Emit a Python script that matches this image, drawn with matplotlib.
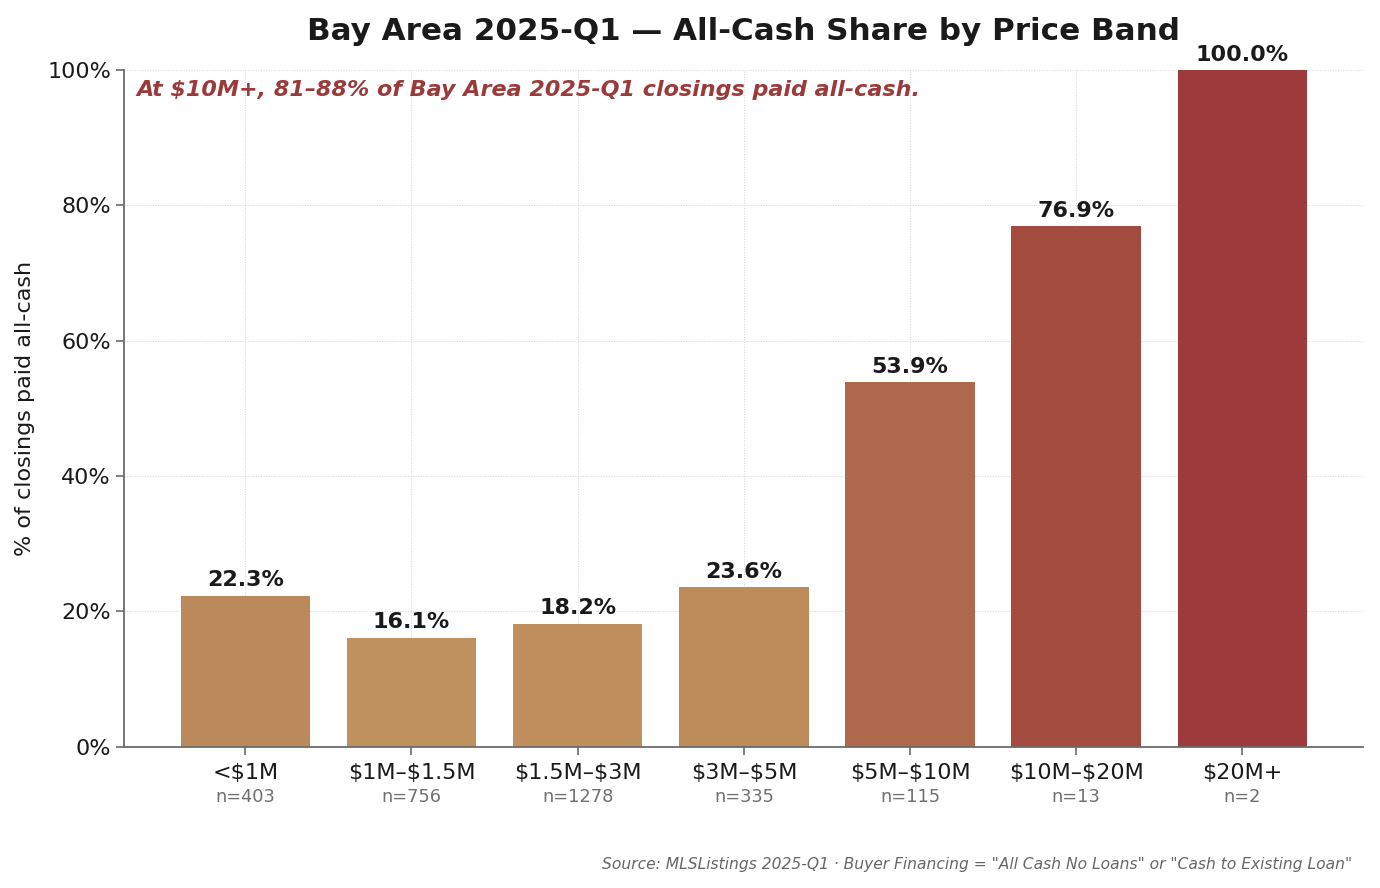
#!/usr/bin/env python3
"""Bay Area 2025-Q1 all-cash share by price band."""
import matplotlib
matplotlib.use("Agg")
import matplotlib.pyplot as plt
import matplotlib.transforms as mtransforms
from matplotlib.ticker import FuncFormatter

plt.rcParams["font.family"] = ["DejaVu Sans"]

bands = ["<$1M", "$1M–$1.5M", "$1.5M–$3M", "$3M–$5M", "$5M–$10M", "$10M–$20M", "$20M+"]
cash_pct = [22.3, 16.1, 18.2, 23.6, 53.9, 76.9, 100.0]
n_sales = [403, 756, 1278, 335, 115, 13, 2]
bar_colors = ["#BC8A5A", "#BF915E", "#BF905D", "#BD8B5A", "#AE694D", "#A44B40", "#9F3A3C"]

TXT = "#1a1a1a"
ACCENT = "#9B3A3A"
SPINE = "#6b6b6b"

fig, ax = plt.subplots(figsize=(13.8, 8.88), dpi=100)
fig.subplots_adjust(left=0.09, right=0.988, top=0.921, bottom=0.159)

x = list(range(len(bands)))
ax.bar(x, cash_pct, width=0.78, color=bar_colors, zorder=2)

for xi, v in zip(x, cash_pct):
    ax.annotate(f"{v:.1f}%", (xi, v), xytext=(0, 4), textcoords="offset points",
                ha="center", va="bottom", fontsize=16, fontweight="bold", color=TXT,
                annotation_clip=False)

ax.set_ylim(0, 100)
ax.yaxis.set_major_formatter(FuncFormatter(lambda v, _: f"{v:.0f}%"))
ax.set_xticks(x)
ax.set_xticklabels([b.replace("$", r"\$") for b in bands], fontsize=16, color=TXT)
ax.tick_params(axis="y", labelsize=16, colors=TXT)
ax.tick_params(axis="x", pad=5.5)
ax.tick_params(axis="both", color=SPINE, length=6, width=1.2)

# sample size under each band
trans = mtransforms.blended_transform_factory(ax.transData, ax.transAxes)
for xi, n in zip(x, n_sales):
    ax.text(xi, -0.061, f"n={n}", transform=trans, ha="center", va="top",
            fontsize=12.8, color="#707070")

ax.set_ylabel("% of closings paid all-cash", fontsize=16, color=TXT, labelpad=9)
ax.set_title("Bay Area 2025-Q1 — All-Cash Share by Price Band",
             fontsize=22.3, fontweight="bold", color=TXT, pad=22)

ax.grid(True, ls=":", lw=0.7, color="#d4d4d4", zorder=0)
ax.set_axisbelow(True)
for s in ("top", "right"):
    ax.spines[s].set_visible(False)
for s in ("left", "bottom"):
    ax.spines[s].set_color(SPINE)
    ax.spines[s].set_linewidth(1.3)

ax.text(0.01, 0.985, r"At \$10M+, 81–88% of Bay Area 2025-Q1 closings paid all-cash.",
        transform=ax.transAxes, ha="left", va="top", fontsize=16,
        fontweight="bold", fontstyle="italic", color=ACCENT)

fig.text(0.98, 0.018,
         'Source: MLSListings 2025-Q1 · Buyer Financing = "All Cash No Loans" or "Cash to Existing Loan"',
         ha="right", va="bottom", fontsize=11.2, fontstyle="italic", color="#666666")

fig.savefig("out.png", dpi=100)
